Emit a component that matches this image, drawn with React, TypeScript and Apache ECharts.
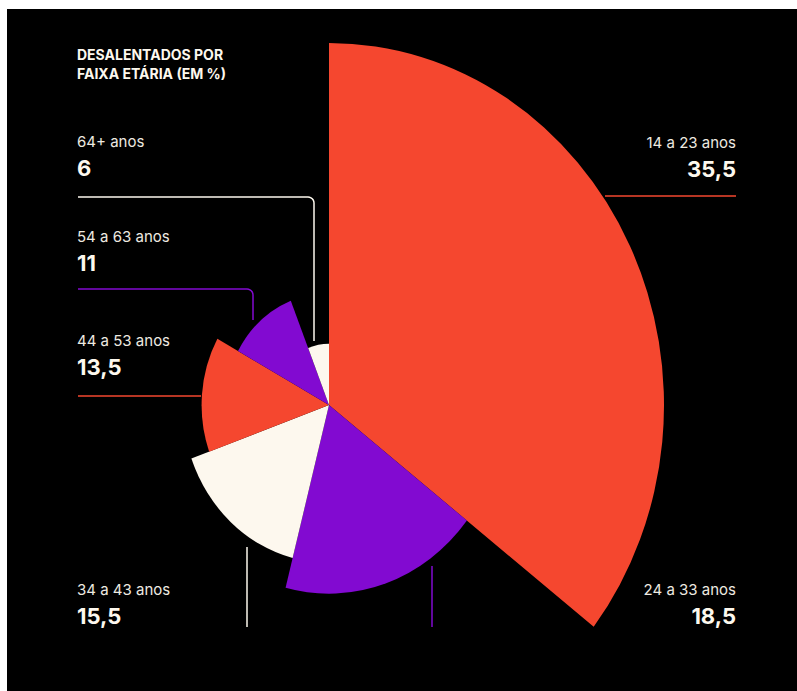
import React, { useEffect, useRef } from "react";
import * as echarts from "echarts";

// ---- data ----
const categories = ["14 a 23 anos", "24 a 33 anos", "34 a 43 anos", "44 a 53 anos", "54 a 63 anos", "64+ anos"];
const values = [35.5, 18.5, 15.5, 13.5, 11, 6];
const valueLabels = ["35,5", "18,5", "15,5", "13,5", "11", "6"];
const titleLines = ["DESALENTADOS POR", "FAIXA ETÁRIA (EM %)"];

// ---- styles ----
const RED = "#F5472F";
const PURPLE = "#820AD1";
const CREAM = "#FDF8EE";
const sliceColors = [RED, PURPLE, CREAM, RED, PURPLE, CREAM];
const FONT = "Inter, 'Noto Sans', sans-serif";

// label anchors (x, y of the category line, alignment) and leader lines, per category
const labelPos: { x: number; y: number; align: "left" | "right" }[] = [
  { x: 736, y: 142, align: "right" },
  { x: 736, y: 589, align: "right" },
  { x: 77, y: 589, align: "left" },
  { x: 77, y: 340, align: "left" },
  { x: 77, y: 236, align: "left" },
  { x: 77, y: 141, align: "left" },
];

function corner(x0: number, y0: number, x1: number, y1: number, r: number): number[][] {
  const pts: number[][] = [[x0, y0]];
  const cx = x1 - r;
  const cy = y0 + r;
  for (let k = 0; k <= 6; k++) {
    const a = -Math.PI / 2 + (k / 6) * (Math.PI / 2);
    pts.push([cx + r * Math.cos(a), cy + r * Math.sin(a)]);
  }
  pts.push([x1, y1]);
  return pts;
}

const leaderLines: { pts: number[][]; color: string }[] = [
  { pts: [[605, 196], [736, 196]], color: RED },
  { pts: [[432, 566], [432, 627]], color: PURPLE },
  { pts: [[247, 547], [247, 627]], color: CREAM },
  { pts: [[78, 396], [201, 396]], color: RED },
  { pts: corner(78, 289, 253, 320, 6), color: PURPLE },
  { pts: corner(78, 197, 314, 341, 6), color: CREAM },
];

const SQUASH = 335 / 362;
const CX = 329;
const CY = 405;
const RMAX = 362;

export default function App() {
  const bgRef = useRef<HTMLDivElement>(null);
  const pieRef = useRef<HTMLDivElement>(null);

  useEffect(() => {
    const bg = echarts.init(bgRef.current!, undefined, { renderer: "svg" });
    const pie = echarts.init(pieRef.current!, undefined, { renderer: "svg" });

    const graphics: any[] = [
      { type: "rect", shape: { x: 7, y: 9, width: 790, height: 682 }, style: { fill: "#000" }, z: 0 },
    ];
    titleLines.forEach((t, i) => {
      graphics.push({
        type: "text",
        x: 77,
        y: 54 + i * 19,
        style: {
          text: t,
          fill: CREAM,
          font: `bold 14px ${FONT}`,
          align: "left",
          verticalAlign: "middle",
          textAlign: "left",
          textVerticalAlign: "middle",
        },
        z: 2,
      });
    });
    categories.forEach((c, i) => {
      const p = labelPos[i];
      graphics.push({
        type: "text",
        x: p.x,
        y: p.y,
        style: {
          text: c,
          fill: "#EEEAE0",
          font: `15px ${FONT}`,
          align: p.align,
          verticalAlign: "middle",
          textAlign: p.align,
          textVerticalAlign: "middle",
        },
        z: 2,
      });
      graphics.push({
        type: "text",
        x: p.x,
        y: p.y + 27,
        style: {
          text: valueLabels[i],
          fill: CREAM,
          font: `bold 22px ${FONT}`,
          align: p.align,
          verticalAlign: "middle",
          textAlign: p.align,
          textVerticalAlign: "middle",
        },
        z: 2,
      });
    });
    leaderLines.forEach((l) => {
      graphics.push({
        type: "polyline",
        shape: { points: l.pts },
        style: { stroke: l.color, lineWidth: 1.5, fill: null },
        z: 1,
      });
    });

    bg.setOption({
      animation: false,
      backgroundColor: "#ffffff",
      graphic: graphics,
    });

    pie.setOption({
      animation: false,
      backgroundColor: "transparent",
      series: [
        {
          type: "pie",
          roseType: "radius",
          center: [CX, CY],
          radius: [0, RMAX],
          startAngle: 90,
          clockwise: true,
          silent: true,
          label: { show: false },
          labelLine: { show: false },
          emphasis: { disabled: true },
          itemStyle: { borderWidth: 0 },
          data: categories.map((c, i) => ({
            name: c,
            value: values[i],
            itemStyle: { color: sliceColors[i] },
          })),
        },
      ],
    });

    return () => {
      bg.dispose();
      pie.dispose();
    };
  }, []);

  return (
    <>
      <div
        ref={bgRef}
        style={{ position: "absolute", left: 0, top: 0, width: 797, height: 691 }}
      />
      <div
        ref={pieRef}
        style={{
          position: "absolute",
          left: 0,
          top: 0,
          width: 797,
          height: 691,
          transform: `scaleX(${SQUASH})`,
          transformOrigin: `${CX}px 0px`,
        }}
      />
    </>
  );
}
